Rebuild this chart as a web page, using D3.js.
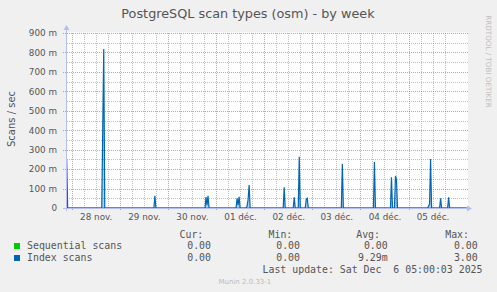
<!DOCTYPE html>
<html>
<head>
<meta charset="utf-8">
<script src="https://cdnjs.cloudflare.com/ajax/libs/d3/7.8.5/d3.min.js"></script>
<style>
  body { margin: 0; background: #f0f0f0; }
  svg text { font-family: "DejaVu Sans", sans-serif; }
  .mono { font-family: "DejaVu Sans Mono", monospace; white-space: pre; }
</style>
</head>
<body>
<svg id="my_dataviz"></svg>
<script>
var Width = 497;
var Height = 292;
var margin = {top: 33, right: 30, bottom: 84, left: 67},
    width = Width - margin.left - margin.right,
    height = Height - margin.top - margin.bottom;

var title = "PostgreSQL scan types (osm) - by week";
var yTitle = "Scans / sec";
var startTime = "2025-11-27 21:40";
var endTime = "2025-12-06 05:10";

var yTicks = [0, 0.1, 0.2, 0.3, 0.4, 0.5, 0.6, 0.7, 0.8, 0.9];
var yTickLabels = ["0", "100 m", "200 m", "300 m", "400 m", "500 m", "600 m", "700 m", "800 m", "900 m"];
var xDays = ["2025-11-28", "2025-11-29", "2025-11-30", "2025-12-01", "2025-12-02", "2025-12-03", "2025-12-04", "2025-12-05"];
var xTickLabels = ["28 nov.", "29 nov.", "30 nov.", "01 déc.", "02 déc.", "03 déc.", "04 déc.", "05 déc."];

// 30 minute samples, only the non zero ones (everything else is 0)
var seqScans = [];
var indexScans = [
  ["2025-11-27 21:30", 0.25],
  ["2025-11-28 15:30", 0.42], ["2025-11-28 16:00", 0.818],
  ["2025-11-29 17:30", 0.063],
  ["2025-11-30 19:00", 0.056], ["2025-11-30 19:30", 0.015], ["2025-11-30 20:00", 0.063],
  ["2025-12-01 10:30", 0.050], ["2025-12-01 11:00", 0.015], ["2025-12-01 11:30", 0.058],
  ["2025-12-01 15:30", 0.010], ["2025-12-01 16:00", 0.045], ["2025-12-01 16:30", 0.118],
  ["2025-12-02 10:00", 0.106],
  ["2025-12-02 15:00", 0.055],
  ["2025-12-02 17:30", 0.263],
  ["2025-12-02 21:00", 0.045], ["2025-12-02 21:30", 0.050],
  ["2025-12-03 15:00", 0.227],
  ["2025-12-04 07:00", 0.236],
  ["2025-12-04 15:30", 0.158],
  ["2025-12-04 17:30", 0.165], ["2025-12-04 18:00", 0.145],
  ["2025-12-05 10:00", 0.010], ["2025-12-05 10:30", 0.020], ["2025-12-05 11:00", 0.252],
  ["2025-12-05 16:00", 0.050],
  ["2025-12-05 20:00", 0.055]
];

var legendNames = ["Sequential scans", "Index scans"];
var legendHeads = ["Cur:", "Min:", "Avg:", "Max:"];
var legendValues = [["0.00", "0.00", "0.00", "0.00"], ["0.00", "0.00", "9.29m", "3.00"]];
var lastUpdate = "Last update: Sat Dec  6 05:00:03 2025";
var version = "Munin 2.0.33-1";

var colors = ["#00cc00", "#0066b3"];
var fontColor = "#555555";
var axisColor = "#b4bef0";
var minorColor = "rgba(128,128,128,0.5)";
var majorColor = "rgba(255,0,0,0.45)";

var parse = d3.timeParse("%Y-%m-%d %H:%M");
var parseDay = d3.timeParse("%Y-%m-%d");
var t0 = parse(startTime), t1 = parse(endTime);

var steps = d3.timeMinute.every(30).range(parse("2025-11-27 21:30"), parse("2025-12-06 05:30"));
function buildSeries(samples) {
  var m = new Map(samples.map(function(s) { return [+parse(s[0]), s[1]]; }));
  return steps.map(function(t) { return {t: t, v: m.get(+t) || 0}; });
}

var svg = d3.select("#my_dataviz")
    .attr("width", Width)
    .attr("height", Height);

var x = d3.scaleTime().domain([t0, t1]).range([margin.left, margin.left + 400]);
var y = d3.scaleLinear().domain([0, 0.9]).range([208, 33]);

// canvas
svg.append("rect")
  .attr("x", margin.left).attr("y", 32.5)
  .attr("width", 401).attr("height", 176)
  .attr("fill", "#ffffff");

// grid: minor
var minorX = d3.timeHour.every(6).range(t0, t1).filter(function(d) { return d.getHours() != 0; });
var minorY = d3.range(0.05, 0.9, 0.1);
var grid = svg.append("g").attr("stroke-dasharray", "1,1").attr("stroke-width", 1);

grid.selectAll(".vminor").data(minorX).enter().append("line")
  .attr("x1", function(d) { return Math.round(x(d)) + 0.5; })
  .attr("x2", function(d) { return Math.round(x(d)) + 0.5; })
  .attr("y1", 33).attr("y2", 208)
  .attr("stroke", minorColor);
grid.selectAll(".hminor").data(minorY).enter().append("line")
  .attr("x1", 67).attr("x2", 468)
  .attr("y1", function(d) { return Math.round(y(d)) + 0.5; })
  .attr("y2", function(d) { return Math.round(y(d)) + 0.5; })
  .attr("stroke", minorColor);

// grid: major
var majorX = xDays.map(parseDay);
grid.selectAll(".vmajor").data(majorX).enter().append("line")
  .attr("x1", function(d) { return Math.round(x(d)) + 0.5; })
  .attr("x2", function(d) { return Math.round(x(d)) + 0.5; })
  .attr("y1", 33).attr("y2", 211)
  .attr("stroke", majorColor);
grid.selectAll(".hmajor").data(yTicks.slice(1)).enter().append("line")
  .attr("x1", 63).attr("x2", 468)
  .attr("y1", function(d) { return Math.round(y(d)) + 0.5; })
  .attr("y2", function(d) { return Math.round(y(d)) + 0.5; })
  .attr("stroke", majorColor);

// series
svg.append("clipPath").attr("id", "clip")
  .append("rect").attr("x", 67).attr("y", 20).attr("width", 401).attr("height", 189);

var line = d3.line()
  .x(function(d) { return x(d.t); })
  .y(function(d) { return y(d.v); });
var area = d3.area()
  .x(function(d) { return x(d.t); })
  .y0(y(0))
  .y1(function(d) { return y(d.v); });

var plot = svg.append("g").attr("clip-path", "url(#clip)");
[seqScans, indexScans].forEach(function(s, i) {
  var data = buildSeries(s);
  plot.append("path").datum(data)
    .attr("d", area)
    .attr("fill", colors[i])
    .attr("opacity", 0.3);
  plot.append("path").datum(data)
    .attr("d", line)
    .attr("fill", "none")
    .attr("stroke", colors[i])
    .attr("stroke-width", 1.2);
});

// axes lines and arrows
svg.append("line").attr("x1", 63).attr("x2", 468).attr("y1", 208.5).attr("y2", 208.5)
  .attr("stroke", axisColor);
svg.append("path").attr("d", "M467,205.5L472,208.5L467,211.5Z").attr("fill", axisColor);
svg.append("line").attr("x1", 66.5).attr("x2", 66.5).attr("y1", 211).attr("y2", 29)
  .attr("stroke", axisColor);
svg.append("path").attr("d", "M63.5,30L66.5,25L69.5,30Z").attr("fill", axisColor);

// axis labels
var yAxis = svg.append("g")
  .attr("transform", "translate(67,0)")
  .call(d3.axisLeft(y).tickValues(yTicks).tickSize(0).tickPadding(10)
    .tickFormat(function(d, i) { return yTickLabels[i]; }));
var noons = majorX.map(function(d) { return d3.timeHour.offset(d, 12); });
var xAxis = svg.append("g")
  .attr("transform", "translate(0,208)")
  .call(d3.axisBottom(x).tickValues(noons).tickSize(0).tickPadding(6)
    .tickFormat(function(d, i) { return xTickLabels[i]; }));
[xAxis, yAxis].forEach(function(a) {
  a.select(".domain").remove();
  a.selectAll("text")
    .style("font-family", "DejaVu Sans")
    .style("font-size", "8.8px")
    .attr("fill", fontColor);
});

// titles
svg.append("text")
  .attr("x", 248).attr("y", 17.5)
  .attr("text-anchor", "middle")
  .style("font-size", "12.8px")
  .attr("fill", fontColor)
  .text(title);
svg.append("text")
  .attr("transform", "translate(14.5,119) rotate(-90)")
  .attr("text-anchor", "middle")
  .style("font-size", "10px")
  .attr("fill", fontColor)
  .text(yTitle);
svg.append("text")
  .attr("transform", "translate(486,61.5) rotate(90)")
  .attr("text-anchor", "middle")
  .style("font-size", "7.2px")
  .attr("fill", "#c0c0c0")
  .text("RRDTOOL / TOBI OETIKER");

// legend
var headX = [203.3, 292.3, 380, 469];
var valX = [211, 300, 387.7, 477.7];
svg.selectAll(".head").data(legendHeads).enter().append("text")
  .attr("class", "mono")
  .attr("x", function(d, i) { return headX[i]; })
  .attr("y", 237.5)
  .attr("text-anchor", "end")
  .style("font-size", "9.9px")
  .attr("fill", fontColor)
  .text(function(d) { return d; });

legendNames.forEach(function(name, r) {
  var yy = 249 + r * 12;
  svg.append("rect")
    .attr("x", 14).attr("y", yy - 6).attr("width", 6).attr("height", 6)
    .attr("fill", colors[r]);
  svg.append("text")
    .attr("class", "mono")
    .attr("x", 27).attr("y", yy)
    .style("font-size", "9.9px")
    .attr("fill", fontColor)
    .text(name);
  svg.selectAll(".val" + r).data(legendValues[r]).enter().append("text")
    .attr("class", "mono")
    .attr("x", function(d, i) { return valX[i]; })
    .attr("y", yy)
    .attr("text-anchor", "end")
    .style("font-size", "9.9px")
    .attr("fill", fontColor)
    .text(function(d) { return d; });
});

svg.append("text")
  .attr("class", "mono")
  .attr("x", 482.5).attr("y", 272.5)
  .attr("text-anchor", "end")
  .style("font-size", "9.9px")
  .attr("fill", fontColor)
  .text(lastUpdate);

svg.append("text")
  .attr("x", 218.5).attr("y", 284)
  .style("font-size", "7px")
  .attr("fill", "#bbbbbb")
  .text(version);
</script>
</body>
</html>
